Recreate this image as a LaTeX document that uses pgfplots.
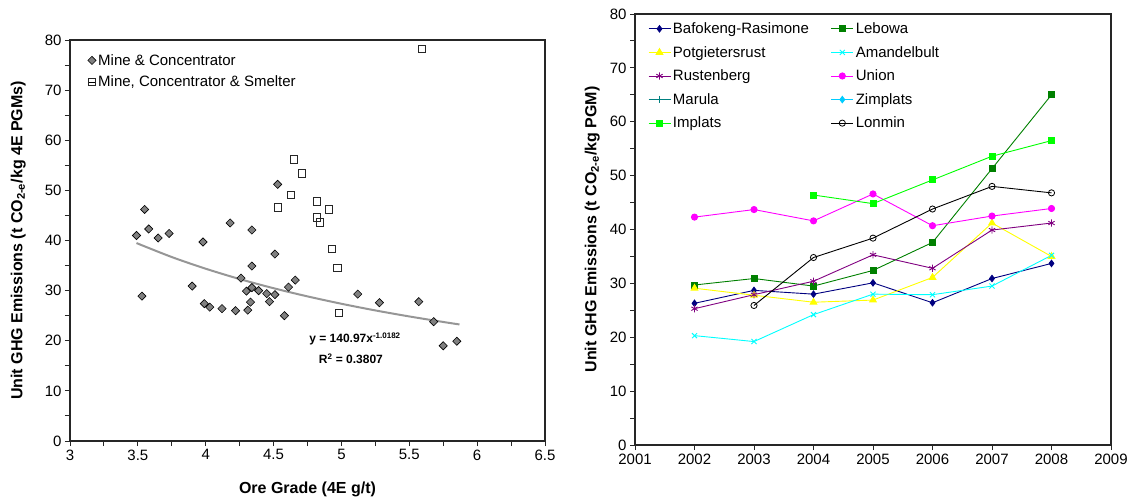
\documentclass[border=0pt]{standalone}
\usepackage{fontspec}
\setmainfont{Liberation Sans}
\usepackage{pgfplots}
\pgfplotsset{compat=1.18}
\definecolor{cnavy}{RGB}{0,0,128}
\definecolor{cdgreen}{RGB}{0,128,0}
\definecolor{cyellow}{RGB}{255,255,0}
\definecolor{ccyan}{RGB}{0,255,255}
\definecolor{cpurple}{RGB}{128,0,128}
\definecolor{cmagenta}{RGB}{255,0,255}
\definecolor{cteal}{RGB}{0,128,128}
\definecolor{czim}{RGB}{0,204,255}
\definecolor{clime}{RGB}{0,255,0}
\definecolor{cgraymark}{RGB}{128,128,128}
\definecolor{ctrend}{RGB}{150,150,150}
\pgfplotsset{
  common/.style={
    scale only axis,
    anchor=south west,
    tick align=outside,
    xtick pos=left, ytick pos=left,
    major tick length=5pt, minor tick length=5pt,
    tick style={black!85, line width=0.9pt},
    axis line style={black!85, line width=1.1pt},
    ticklabel style={font=\fontsize{15}{18}\selectfont},
    /pgf/number format/assume math mode=true,
    legend cell align=left,
  }
}
\begin{document}
\begin{tikzpicture}[x=1pt,y=1pt]
\useasboundingbox (0,0) rectangle (1130,498);
% ---------------- left chart ----------------
\begin{axis}[common,
  at={(70pt,57pt)}, width=475pt, height=401pt,
  xmin=3, xmax=6.5, ymin=0, ymax=80,
  xtick={3,3.5,4,4.5,5,5.5,6,6.5}, ytick={0,10,...,80},
  minor x tick num=1, minor y tick num=1,
  xlabel={Ore Grade (4E g/t)},
  ylabel={Unit GHG Emissions (t CO\textsubscript{2-e}/kg 4E PGMs)},
  xlabel style={at={(axis description cs:0.5,-0.12)}, anchor=center, font=\bfseries\fontsize{16}{19}\selectfont},
  ylabel style={at={(axis description cs:-0.109,0.5)}, rotate=0, anchor=center, font=\bfseries\fontsize{16}{19}\selectfont},
  legend style={draw=none, fill=none, at={(0.037,0.97)}, anchor=north west,
    font=\fontsize{15}{18}\selectfont, row sep=5pt, inner sep=0pt},
  legend image code/.code={\path (0pt,0pt) -- (8pt,0pt); \draw[#1] plot coordinates {(4pt,0pt)};},
]
\addplot[only marks, mark=square*, mark size=2.9pt, mark options={rotate=45, fill=cgraymark, draw=black, line width=0.6pt}]
coordinates {
(3.55,46.2) (3.58,42.3) (3.49,41.0) (3.65,40.5) (3.73,41.4) (3.53,28.9)
(3.98,39.7) (4.18,43.5) (4.34,42.1) (4.34,34.9) (4.26,32.5) (3.90,30.9)
(3.99,27.4) (4.03,26.7) (4.12,26.4) (4.22,26.0) (4.31,26.1) (4.33,27.7)
(4.30,29.9) (4.34,30.6) (4.39,30.0) (4.45,29.4) (4.47,27.8) (4.53,51.2)
(4.51,37.3) (4.51,29.2) (4.61,30.7) (4.66,32.1) (4.58,25.0) (5.12,29.3)
(5.28,27.6) (5.57,27.8) (5.68,23.8) (5.75,19.0) (5.85,19.9)
};
\addlegendentry{Mine \& Concentrator}
\addplot[only marks, mark=square, mark size=3.6pt, mark options={fill=white, draw=black!85, line width=0.8pt}]
coordinates {
(4.65,56.2) (4.71,53.4) (4.63,49.1) (4.53,46.6) (4.82,47.8) (4.91,46.2)
(4.82,44.6) (4.84,43.6) (4.93,38.3) (4.97,34.6) (4.98,25.5) (5.59,78.2)
};
\addlegendentry{Mine, Concentrator \& Smelter}
\addplot[ctrend, line width=2pt, smooth, forget plot]
coordinates {
(3.49,39.49) (3.75,36.70) (4.0,34.37) (4.25,32.31) (4.5,30.48) (4.75,28.85)
(5.0,27.38) (5.25,26.05) (5.5,24.85) (5.75,23.75) (5.87,23.25)
};
\node[font=\bfseries\fontsize{12}{14}\selectfont] at (axis cs:5.10,20.3) {y = 140.97x\textsuperscript{-1.0182}};
\node[font=\bfseries\fontsize{12}{14}\selectfont] at (axis cs:5.07,16.4) {R\textsuperscript{2} = 0.3807};
\end{axis}
% ---------------- right chart ----------------
\begin{axis}[common,
  at={(635pt,53pt)}, width=476pt, height=431pt,
  xmin=2001, xmax=2009, ymin=0, ymax=80,
  xtick={2001,...,2009}, ytick={0,10,...,80},
  minor y tick num=1,
  x tick label style={/pgf/number format/1000 sep={}},
  ylabel={Unit GHG Emissions (t CO\textsubscript{2-e}/kg PGM)},
  ylabel style={at={(axis description cs:-0.090,0.5)}, rotate=0, anchor=center, font=\bfseries\fontsize{16}{19}\selectfont},
  legend columns=2,
  legend style={draw=none, fill=none, at={(0.027,0.985)}, anchor=north west,
    font=\fontsize{15}{18}\selectfont, row sep=7.2pt, inner sep=0pt,
    /tikz/every even column/.append style={column sep=20pt}},
  legend image code/.code={\draw[mark repeat=2, mark phase=2, #1] plot coordinates {(0pt,0pt) (11pt,0pt) (22pt,0pt)};},
  every axis plot/.append style={line width=0.9pt},
]
\addplot[cnavy, mark=diamond*, mark size=3.2pt, mark options={fill=cnavy}]
coordinates {(2002,26.3) (2003,28.7) (2004,28.0) (2005,30.1) (2006,26.4) (2007,30.9) (2008,33.7)};
\addlegendentry{Bafokeng-Rasimone}
\addplot[cdgreen, mark=square*, mark size=3pt, mark options={fill=cdgreen}]
coordinates {(2002,29.7) (2003,30.9) (2004,29.5) (2005,32.4) (2006,37.6) (2007,51.3) (2008,65.0)};
\addlegendentry{Lebowa}
\addplot[cyellow, mark=triangle*, mark size=3.8pt, mark options={fill=cyellow}]
coordinates {(2002,29.1) (2003,27.8) (2004,26.5) (2005,26.9) (2006,31.1) (2007,41.2) (2008,35.0)};
\addlegendentry{Potgietersrust}
\addplot[ccyan, mark=x, mark size=3.6pt]
coordinates {(2002,20.3) (2003,19.2) (2004,24.2) (2005,28.0) (2006,27.9) (2007,29.5) (2008,35.2)};
\addlegendentry{Amandelbult}
\addplot[cpurple, mark=asterisk, mark size=3.6pt]
coordinates {(2002,25.3) (2003,27.9) (2004,30.4) (2005,35.3) (2006,32.8) (2007,39.9) (2008,41.2)};
\addlegendentry{Rustenberg}
\addplot[cmagenta, mark=*, mark size=3.1pt, mark options={fill=cmagenta}]
coordinates {(2002,42.3) (2003,43.7) (2004,41.6) (2005,46.6) (2006,40.7) (2007,42.5) (2008,43.9)};
\addlegendentry{Union}
\addlegendimage{cteal, line width=0.9pt, mark=+, mark size=3.6pt}
\addlegendentry{Marula}
\addlegendimage{czim, line width=0.9pt, mark=diamond*, mark size=3.2pt, mark options={fill=czim}}
\addlegendentry{Zimplats}
\addplot[clime, mark=square*, mark size=3pt, mark options={fill=clime}]
coordinates {(2004,46.4) (2005,44.8) (2006,49.2) (2007,53.6) (2008,56.5)};
\addlegendentry{Implats}
\addplot[black, mark=o, mark size=3.1pt, mark options={line width=0.8pt}]
coordinates {(2003,25.9) (2004,34.8) (2005,38.4) (2006,43.8) (2007,48.0) (2008,46.8)};
\addlegendentry{Lonmin}
\end{axis}
\end{tikzpicture}
\end{document}
